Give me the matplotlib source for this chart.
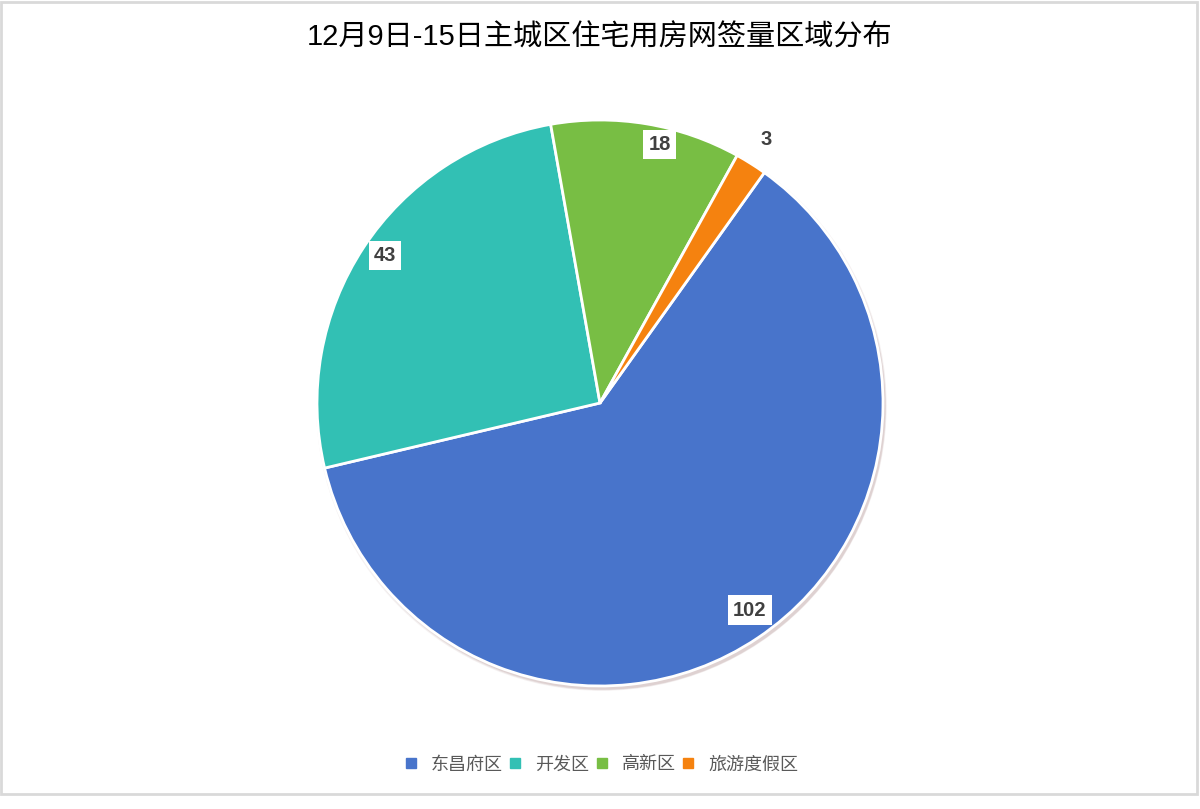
import matplotlib
matplotlib.use("Agg")
import matplotlib.pyplot as plt
from matplotlib.patches import Rectangle, Circle
from matplotlib.lines import Line2D
import numpy as np

plt.rcParams['font.family'] = ['Liberation Sans', 'Noto Sans CJK SC', 'DejaVu Sans']

title = "12月9日-15日主城区住宅用房网签量区域分布"
categories = ["东昌府区", "开发区", "高新区", "旅游度假区"]
values = [102, 43, 18, 3]
colors = ["#4874CB", "#32C0B4", "#78BE44", "#F5820F"]

W, H = 1200, 809
fig = plt.figure(figsize=(W / 100, H / 100), dpi=100)

# border
fig.patches.append(Rectangle((1 / W, 15 / H), 1196 / W, 792 / H, transform=fig.transFigure,
                             fill=False, edgecolor="#D9D9D9", linewidth=2))

cx, cy, r = 600, 403, 283
ax = fig.add_axes([(cx - r - 10) / W, (H - cy - r - 10) / H, (2 * r + 20) / W, (2 * r + 20) / H])

# soft shadow
for i, a in enumerate([0.08, 0.10, 0.12]):
    ax.add_patch(Circle((0.005 + 0.002 * i, -0.009 - 0.002 * i), 1.0 + 0.004 * (2 - i),
                        color="#8B5A5A", alpha=a, linewidth=0, zorder=0))

total = sum(values)
start = 90 - 35.5
wedges, _ = ax.pie(values, colors=colors, startangle=start, counterclock=False, radius=1.0,
                   wedgeprops=dict(edgecolor="white", linewidth=2))
for w in wedges:
    w.set_zorder(2)

lim = (r + 10) / r
ax.set_xlim(-lim, lim)
ax.set_ylim(-lim, lim)
ax.set_aspect("equal")
ax.axis("off")

label_r = [0.903, 0.922, 0.936, 1.10]
label_shift = [2.0, -1.2, -3.5, 0.0]
cum = 0
for v, lr, sh in zip(values, label_r, label_shift):
    mid = start - (cum + v / 2) / total * 360 + sh
    cum += v
    x, y = lr * np.cos(np.radians(mid)), lr * np.sin(np.radians(mid))
    if lr > 1:
        ax.text(x, y, str(v), ha="center", va="center", fontsize=14.5, fontweight="bold",
                color="#404040", zorder=5)
    else:
        ax.text(x, y, str(v), ha="center", va="center", fontsize=14.5, fontweight="bold",
                color="#404040", zorder=5,
                bbox=dict(boxstyle="square,pad=0.25", facecolor="white", edgecolor="none"))

fig.text(0.5, 1 - 38 / H, title, ha="center", va="center", fontsize=21, color="#000000")

handles = [Line2D([0], [0], marker="s", linestyle="none", markersize=7,
                  markerfacecolor=c, markeredgecolor=c) for c in colors]
leg = fig.legend(handles, categories, loc="center", bbox_to_anchor=(0.5, 1 - 765 / H),
                 ncol=4, frameon=False, fontsize=13, handlelength=1.0, handletextpad=0.6,
                 columnspacing=0.2, labelcolor="#595959")

fig.savefig("out.png", dpi=100, facecolor="white")
